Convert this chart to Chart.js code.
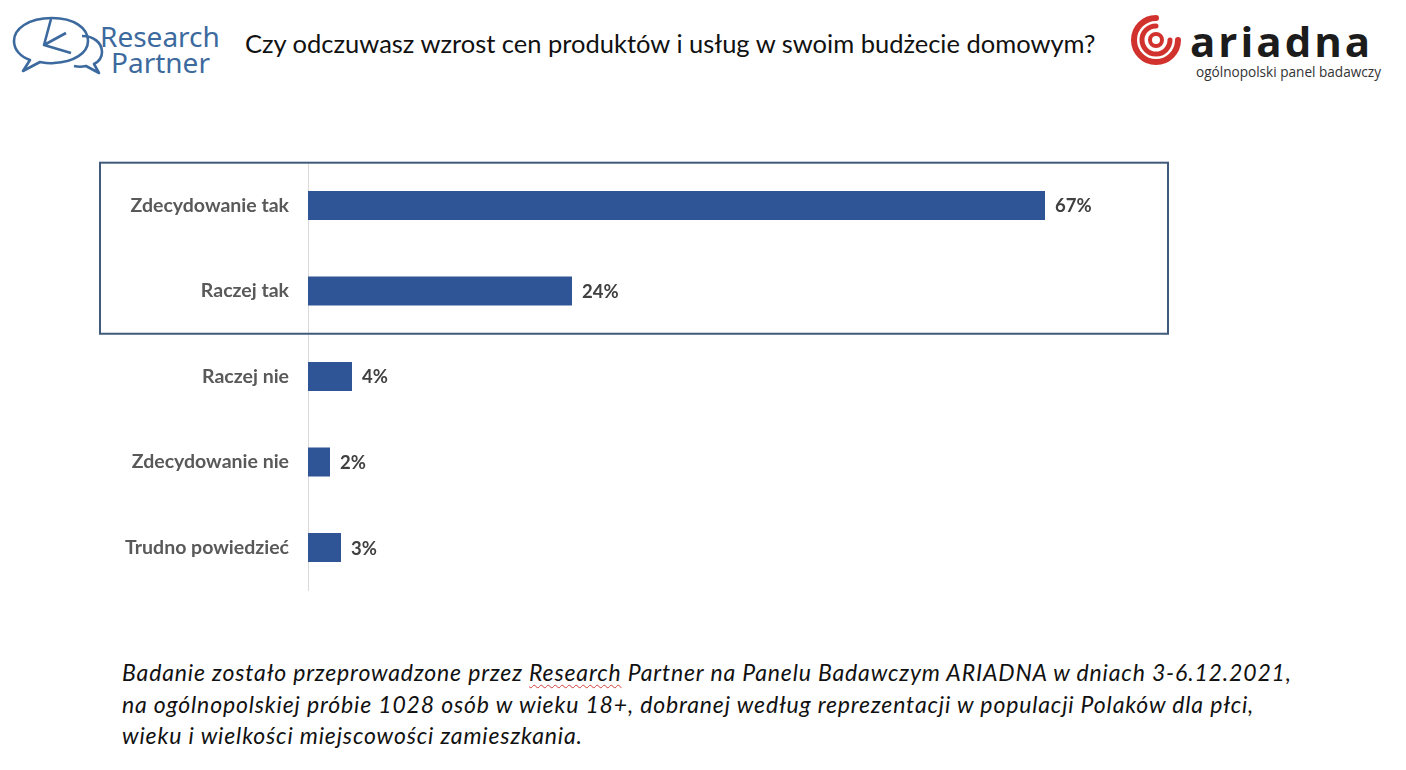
<!DOCTYPE html>
<html lang="pl">
<head>
<meta charset="utf-8">
<script src="https://cdn.jsdelivr.net/npm/chart.js@4.4.0/dist/chart.umd.min.js"></script>
<style>
    body { margin: 0; width: 1406px; height: 770px; background: #fff; position: relative; overflow: hidden; font-family: Lato, sans-serif; }
    #title { position: absolute; left: 245px; top: 28px; font-size: 25.5px; color: #111; white-space: nowrap; }
    #chartWrap { position: absolute; left: 0; top: 132px; width: 1406px; height: 489px; }
    #note { position: absolute; left: 122px; top: 657px; font-size: 23px; font-style: italic; color: #111; line-height: 31.5px; letter-spacing: 0.85px; white-space: nowrap; }
    #note .sp { text-decoration: underline wavy #d04040; text-decoration-thickness: 1px; text-underline-offset: 3px; }
    #rp { position: absolute; left: 8px; top: 12px; }
    #ar { position: absolute; left: 1128px; top: 10px; }
</style>
</head>
<body>

<!-- Research Partner logo -->
<svg id="rp" width="220" height="66" viewBox="0 0 220 66">
    <g fill="none" stroke="#3d6a9e" stroke-width="2.6" stroke-linejoin="round">
        <path d="M44 6 C20 6 6 17 6 29 C6 38 13 45 22 48 L15 59 L32 50 C37 51 41 52 46 51 C66 50 80 41 80 29 C80 16 66 6 44 6 Z"/>
        <path d="M74 24 C86 24 94 31 94 40 C94 46 90 50 86 52 L91 61 L78 54 C74 55 70 55 66 54"/>
        <path d="M43 7 L36 33 L63 41 M36 33 L58 21"/>
    </g>
    <text x="92" y="35" font-family="'Noto Sans', sans-serif" font-size="28" fill="#3d6a9e">Research</text>
    <text x="103" y="61" font-family="'Noto Sans', sans-serif" font-size="28" fill="#3d6a9e">Partner</text>
</svg>

<div id="title">Czy odczuwasz wzrost cen produktów i usług w swoim budżecie domowym?</div>

<!-- ARIADNA logo -->
<svg id="ar" width="270" height="72" viewBox="0 0 270 72">
    <g fill="none" stroke="#d2322d" stroke-linecap="round">
        <path d="M28 8 A22 22 0 1 0 50 30" stroke-width="6"/>
        <path d="M28 16 A14 14 0 1 0 42 30" stroke-width="5"/>
        <circle cx="28" cy="30" r="6" stroke-width="4"/>
    </g>
    <text x="62" y="47" font-family="'Open Sans', sans-serif" font-weight="700" font-size="42" fill="#1c1c1c" letter-spacing="3">ariadna</text>
    <text x="68" y="67" font-family="'Open Sans', sans-serif" font-size="13.6" fill="#333">ogólnopolski panel badawczy</text>
</svg>

<div id="chartWrap"><canvas id="barChart"></canvas></div>

<div id="note">Badanie zostało przeprowadzone przez <span class="sp">Research</span> Partner na Panelu Badawczym ARIADNA w dniach 3-6.12.2021,<br>
na ogólnopolskiej próbie 1028 osób w wieku 18+, dobranej według reprezentacji w populacji Polaków dla płci,<br>
wieku i wielkości miejscowości zamieszkania.</div>

<script>
const answers = ['Zdecydowanie tak', 'Raczej tak', 'Raczej nie', 'Zdecydowanie nie', 'Trudno powiedzieć'];
const shares = [67, 24, 4, 2, 3];
const valueLabels = ['67%', '24%', '4%', '2%', '3%'];

// etykiety z wartością na końcu słupka
const valueLabelPlugin = {
    id: 'valueLabels',
    afterDatasetsDraw(chart) {
        const ctx = chart.ctx;
        const meta = chart.getDatasetMeta(0);
        ctx.save();
        ctx.font = 'bold 18.5px Lato, sans-serif';
        ctx.fillStyle = '#404040';
        ctx.textBaseline = 'middle';
        meta.data.forEach((bar, i) => {
            ctx.fillText(valueLabels[i], bar.x + 10, bar.y + 1);
        });
        ctx.restore();
    }
};

// ramka wokół dwóch pierwszych odpowiedzi
const frameBoxPlugin = {
    id: 'frameBox',
    afterDraw(chart) {
        const y = chart.scales.y;
        const half = (y.getPixelForTick(1) - y.getPixelForTick(0)) / 2;
        const top = y.getPixelForTick(0) - half;
        const bottom = y.getPixelForTick(1) + half;
        const ctx = chart.ctx;
        ctx.save();
        ctx.strokeStyle = '#3f5a7a';
        ctx.lineWidth = 2;
        ctx.strokeRect(100, top, 1068, bottom - top);
        ctx.restore();
    }
};

const barCtx = document.getElementById('barChart').getContext('2d');
const barChart = new Chart(barCtx, {
    type: 'bar',
    data: {
        labels: answers,
        datasets: [{
            data: shares,
            backgroundColor: '#2f5597',
            categoryPercentage: 1,
            barPercentage: 0.34
        }]
    },
    options: {
        indexAxis: 'y',
        responsive: true,
        maintainAspectRatio: false,
        animation: false,
        layout: { padding: { top: 11, bottom: 9, left: 0, right: 218 } },
        scales: {
            x: {
                display: false,
                min: 0,
                max: 80
            },
            y: {
                afterFit(scale) { scale.width = 308; },
                grid: { display: false, drawTicks: false },
                border: { display: true, color: '#d9d9d9', width: 1 },
                ticks: {
                    padding: 19,
                    color: '#595959',
                    font: { family: 'Lato, sans-serif', size: 19.5, weight: 'bold' }
                }
            }
        },
        plugins: {
            legend: { display: false },
            tooltip: { enabled: false }
        }
    },
    plugins: [valueLabelPlugin, frameBoxPlugin]
});
</script>
</body>
</html>
